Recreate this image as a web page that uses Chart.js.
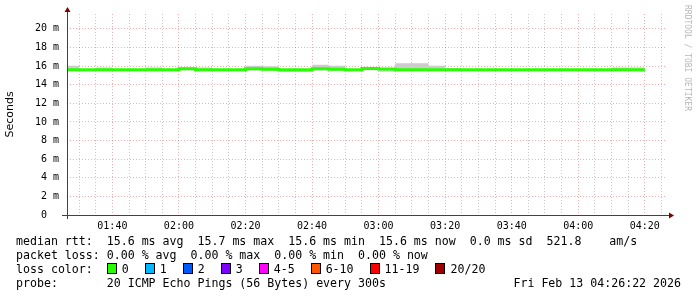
<!DOCTYPE html>
<html lang="en">
  <head>
    <meta charset="UTF-8" />
    <title>Ping latency</title>
    <script src="https://cdn.jsdelivr.net/npm/chart.js"></script>
    <style>
      body { margin: 0; background: #fff; }
      #wrap { position: relative; width: 697px; height: 297px; }
      #pingChart { position: absolute; left: 0; top: 0; }
      #legend {
        position: absolute; left: 16px; top: 234px; width: 665px;
        font: 11.6px "DejaVu Sans Mono", monospace; line-height: 14px; color: #000;
      }
      #legend > div { height: 14px; position: relative; white-space: pre; }
      .sw { display: inline-block; width: 8px; height: 9px; border: 1px solid #000; vertical-align: -1px; margin-right: 5px; }
      .item { display: inline-block; margin-right: 16px; }
      #date { position: absolute; right: 0; top: 0; }
    </style>
  </head>
  <body>
    <div id="wrap">
      <canvas id="pingChart" width="697" height="297"></canvas>
      <div id="legend"><div id="rtt"></div><div id="loss"></div><div id="colors"></div><div id="probe"><span id="probeText"></span><span id="date"></span></div></div>
    </div>
    <script>
      // 5 minute samples, labelled by the end of each step
      const sampleEnd = [
        "01:30", "01:35", "01:40", "01:45", "01:50", "01:55", "02:00",
        "02:05", "02:10", "02:15", "02:20", "02:25", "02:30", "02:35",
        "02:40", "02:45", "02:50", "02:55", "03:00", "03:05", "03:10",
        "03:15", "03:20", "03:25", "03:30", "03:35", "03:40", "03:45",
        "03:50", "03:55", "04:00", "04:05", "04:10", "04:15", "04:20",
      ];
      // milliseconds
      const medianRtt = [
        15.6, 15.6, 15.6, 15.6, 15.6, 15.6, 15.6,
        15.72, 15.6, 15.6, 15.6, 15.72, 15.66, 15.6,
        15.6, 15.72, 15.66, 15.6, 15.75, 15.7, 15.6,
        15.6, 15.6, 15.6, 15.6, 15.6, 15.6, 15.6,
        15.6, 15.6, 15.6, 15.6, 15.6, 15.6, 15.6,
      ];
      const smokeMax = [
        16.05, 15.7, 15.85, 15.7, 15.7, 15.85, 15.7,
        15.85, 15.85, 15.7, 15.7, 16.05, 15.98, 15.7,
        15.7, 16.15, 16.05, 15.7, 15.85, 15.78, 16.3,
        16.3, 16.05, 15.78, 15.7, 15.7, 15.7, 15.7,
        15.7, 15.7, 15.7, 15.7, 15.7, 15.85, 15.85,
      ];
      const smokeMin = [
        15.5, 15.5, 15.5, 15.5, 15.5, 15.5, 15.5,
        15.55, 15.5, 15.5, 15.5, 15.55, 15.5, 15.4,
        15.4, 15.55, 15.5, 15.5, 15.55, 15.4, 15.5,
        15.5, 15.5, 15.5, 15.5, 15.5, 15.5, 15.5,
        15.5, 15.5, 15.5, 15.5, 15.5, 15.5, 15.5,
      ];
      const xTickLabels = ["01:40", "02:00", "02:20", "02:40", "03:00", "03:20", "03:40", "04:00", "04:20"];
      const yTickLabels = [0, 2, 4, 6, 8, 10, 12, 14, 16, 18, 20];

      const rttStats = ["15.6 ms avg", "15.7 ms max", "15.6 ms min", "15.6 ms now", "0.0 ms sd", "521.8    am/s"];
      const lossStats = ["0.00 % avg", "0.00 % max", "0.00 % min", "0.00 % now"];
      const lossLabels = ["0", "1", "2", "3", "4-5", "6-10", "11-19", "20/20"];
      const lossColors = ["#26ff00", "#00b8ff", "#0059ff", "#7e00ff", "#ff00ff", "#ff5500", "#ff0000", "#a10000"];
      const probeText = "20 ICMP Echo Pings (56 Bytes) every 300s";
      const stampText = "Fri Feb 13 04:26:22 2026";

      const toMin = (s) => {
        const [h, m] = s.split(":");
        return +h * 60 + +m;
      };
      const pad = (n) => String(n).padStart(2, "0");
      const fmt = (v) => pad(Math.floor(v / 60)) + ":" + pad(Math.round(v % 60));

      const viewStart = 60 + 26 + 22 / 60;
      const viewEnd = viewStart + 180;

      // each value holds from the previous step boundary to its own
      function steps(vals) {
        const pts = sampleEnd.map((t, i) => ({ x: toMin(t) - 5, y: vals[i] }));
        pts.push({ x: toMin(sampleEnd[sampleEnd.length - 1]), y: vals[vals.length - 1] });
        return pts;
      }

      const rrdDecor = {
        id: "rrdDecor",
        afterDraw(chart) {
          const { ctx, chartArea: a } = chart;
          ctx.save();
          ctx.strokeStyle = "#2c4d43";
          ctx.lineWidth = 1;
          ctx.beginPath();
          ctx.moveTo(a.left - 5, a.bottom + 0.5);
          ctx.lineTo(a.right + 4, a.bottom + 0.5);
          ctx.moveTo(a.left + 0.5, a.bottom + 4);
          ctx.lineTo(a.left + 0.5, a.top - 2);
          ctx.stroke();
          ctx.fillStyle = "#7f0000";
          ctx.beginPath();
          ctx.moveTo(a.right + 3, a.bottom - 2.5);
          ctx.lineTo(a.right + 3, a.bottom + 3.5);
          ctx.lineTo(a.right + 8, a.bottom + 0.5);
          ctx.fill();
          ctx.beginPath();
          ctx.moveTo(a.left - 2.5, a.top - 2);
          ctx.lineTo(a.left + 3.5, a.top - 2);
          ctx.lineTo(a.left + 0.5, a.top - 7);
          ctx.fill();
          // watermark
          ctx.translate(687, 5);
          ctx.rotate(Math.PI / 2);
          ctx.font = '8px "DejaVu Sans Mono"';
          ctx.fillStyle = "rgba(0,0,0,0.3)";
          ctx.textBaseline = "middle";
          ctx.fillText("RRDTOOL / TOBI OETIKER", 0, 0);
          ctx.restore();
        },
      };

      const ctx = document.getElementById("pingChart").getContext("2d");
      new Chart(ctx, {
        type: "line",
        data: {
          datasets: [
            {
              label: "median rtt",
              data: steps(medianRtt),
              stepped: true,
              borderColor: lossColors[0],
              borderWidth: 3,
              pointRadius: 0,
              fill: false,
            },
            {
              label: "smoke max",
              data: steps(smokeMax),
              stepped: true,
              borderWidth: 0,
              pointRadius: 0,
              backgroundColor: "#cccccc",
              fill: "+1",
            },
            {
              label: "smoke min",
              data: steps(smokeMin),
              stepped: true,
              borderWidth: 0,
              pointRadius: 0,
              fill: false,
            },
          ],
        },
        options: {
          responsive: false,
          animation: false,
          layout: { padding: { top: 14, right: 31, bottom: 0, left: 0 } },
          plugins: { legend: { display: false }, tooltip: { enabled: false } },
          scales: {
            x: {
              type: "linear",
              min: viewStart,
              max: viewEnd,
              afterBuildTicks: (scale) => {
                const t = [];
                for (let v = 90; v < viewEnd; v += 5) t.push({ value: v });
                scale.ticks = t;
              },
              afterFit: (scale) => {
                scale.height = 82;
              },
              ticks: {
                autoSkip: false,
                maxRotation: 0,
                padding: 5,
                color: "#000",
                font: { family: "DejaVu Sans Mono", size: 10 },
                callback: (v) => (xTickLabels.includes(fmt(v)) ? fmt(v) : ""),
              },
              grid: {
                drawTicks: false,
                color: (c) =>
                  xTickLabels.includes(fmt(c.tick.value)) ? "rgba(222,79,79,0.45)" : "rgba(143,143,143,0.5)",
              },
              border: { display: false, dash: [1, 2] },
            },
            y: {
              min: 0,
              max: 21.6,
              afterBuildTicks: (scale) => {
                const t = [];
                for (let v = 0; v <= 21; v++) t.push({ value: v });
                scale.ticks = t;
              },
              afterFit: (scale) => {
                scale.width = 67;
              },
              ticks: {
                padding: 8,
                color: "#000",
                font: { family: "DejaVu Sans Mono", size: 10 },
                callback: (v) => (v === 0 ? "0  " : yTickLabels.includes(v) ? v + " m" : ""),
              },
              grid: {
                drawTicks: false,
                color: (c) =>
                  c.tick.value > 0 && yTickLabels.includes(c.tick.value) ? "rgba(222,79,79,0.45)" : "rgba(143,143,143,0.5)",
              },
              border: { display: false, dash: [1, 2] },
              title: {
                display: true,
                text: "Seconds",
                color: "#000",
                font: { family: "DejaVu Sans", size: 11 },
                padding: { top: 4, bottom: 0 },
              },
            },
          },
        },
        plugins: [rrdDecor],
      });

      // text legend under the graph
      document.getElementById("rtt").textContent = "median rtt:  " + rttStats.join("  ");
      document.getElementById("loss").textContent = "packet loss: " + lossStats.join("  ");
      const colors = document.getElementById("colors");
      colors.textContent = "loss color:  ";
      lossLabels.forEach((lab, i) => {
        const item = document.createElement("span");
        item.className = "item";
        const sw = document.createElement("span");
        sw.className = "sw";
        sw.style.background = lossColors[i];
        item.appendChild(sw);
        item.appendChild(document.createTextNode(lab));
        colors.appendChild(item);
      });
      document.getElementById("probeText").textContent = "probe:       " + probeText;
      document.getElementById("date").textContent = stampText;
    </script>
  </body>
</html>
